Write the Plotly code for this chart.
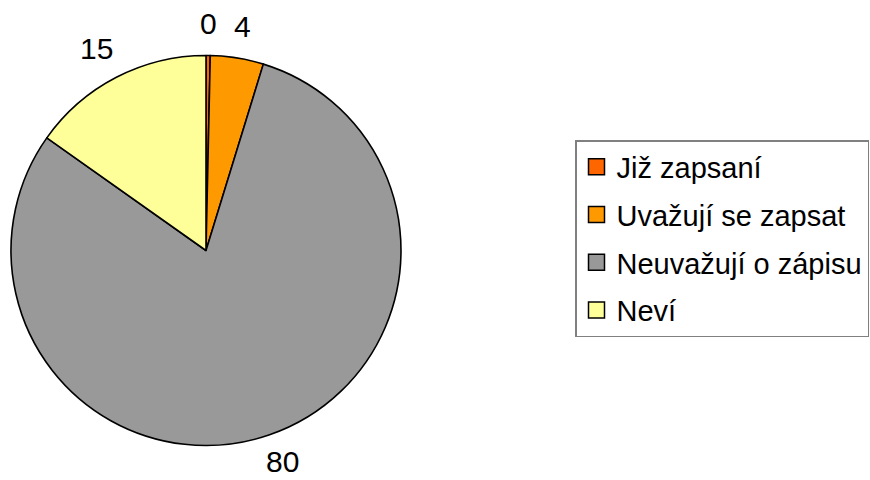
import math
import plotly.graph_objects as go

categories = ["Již zapsaní", "Uvažují se zapsat", "Neuvažují o zápisu", "Neví"]
values = [0.35, 4.4, 80.05, 15.2]
colors = ["#FF6600", "#FF9900", "#999999", "#FFFF99"]

FONT = "Liberation Sans, Arial, sans-serif"
W, H = 870, 480
LABEL_SIZE = 30

# pie domain (paper fractions; margins are zero so paper == figure)
dom_x = [11 / W, 401 / W]
dom_y = [34.5 / H, 424.5 / H]

fig = go.Figure()
fig.add_trace(go.Pie(
    labels=categories,
    values=values,
    sort=False,
    direction="clockwise",
    rotation=0,
    marker=dict(colors=colors, line=dict(color="black", width=1.6)),
    textinfo="none",
    showlegend=False,
    hoverinfo="label+value",
    domain=dict(x=dom_x, y=dom_y),
))

# value labels placed outside each slice at its mid-angle (derived from the values)
cx = (dom_x[0] + dom_x[1]) / 2 * W
cy = (1 - (dom_y[0] + dom_y[1]) / 2) * H
radius = min((dom_x[1] - dom_x[0]) * W, (dom_y[1] - dom_y[0]) * H) / 2
total = sum(values)
cum = 0.0
for v in values:
    mid = (cum + v / 2) / total * 2 * math.pi
    cum += v
    txt = f"{v:.0f}"
    tw = 0.556 * LABEL_SIZE * len(txt)
    th = LABEL_SIZE
    s, c = math.sin(mid), math.cos(mid)
    r_edge = radius + 17
    px = cx + r_edge * s + tw / 2 * s + 10 * s * abs(c)
    py = cy - r_edge * c - th / 2 * c
    py = min(py, H - 0.62 * th)  # keep the text box inside the figure
    fig.add_annotation(
        x=px / W, y=1 - py / H, xref="paper", yref="paper",
        text=txt, showarrow=False, xanchor="center", yanchor="middle",
        font=dict(family=FONT, size=LABEL_SIZE, color="black"),
    )

# legend entries (one per category, own group so spacing can be set)
for name, col in zip(categories, colors):
    fig.add_trace(go.Scatter(
        x=[None], y=[None], mode="markers", name=name,
        legendgroup=name,
        marker=dict(symbol="square", size=16, color=col,
                    line=dict(color="black", width=1.5)),
    ))

fig.update_layout(
    width=W, height=H,
    margin=dict(l=0, r=0, t=0, b=0, autoexpand=False),
    paper_bgcolor="white", plot_bgcolor="white",
    font=dict(family=FONT, size=29, color="black"),
    xaxis=dict(visible=False), yaxis=dict(visible=False),
    legend=dict(
        x=575 / W, y=1 - 140 / H, xanchor="left", yanchor="top",
        bordercolor="#808080", borderwidth=1.5, bgcolor="white",
        font=dict(family=FONT, size=29, color="black"),
        tracegroupgap=7,
        traceorder="grouped",
    ),
)

fig.write_html("out.html", config={"displayModeBar": False},
               post_script="document.body.style.margin='0px';")
